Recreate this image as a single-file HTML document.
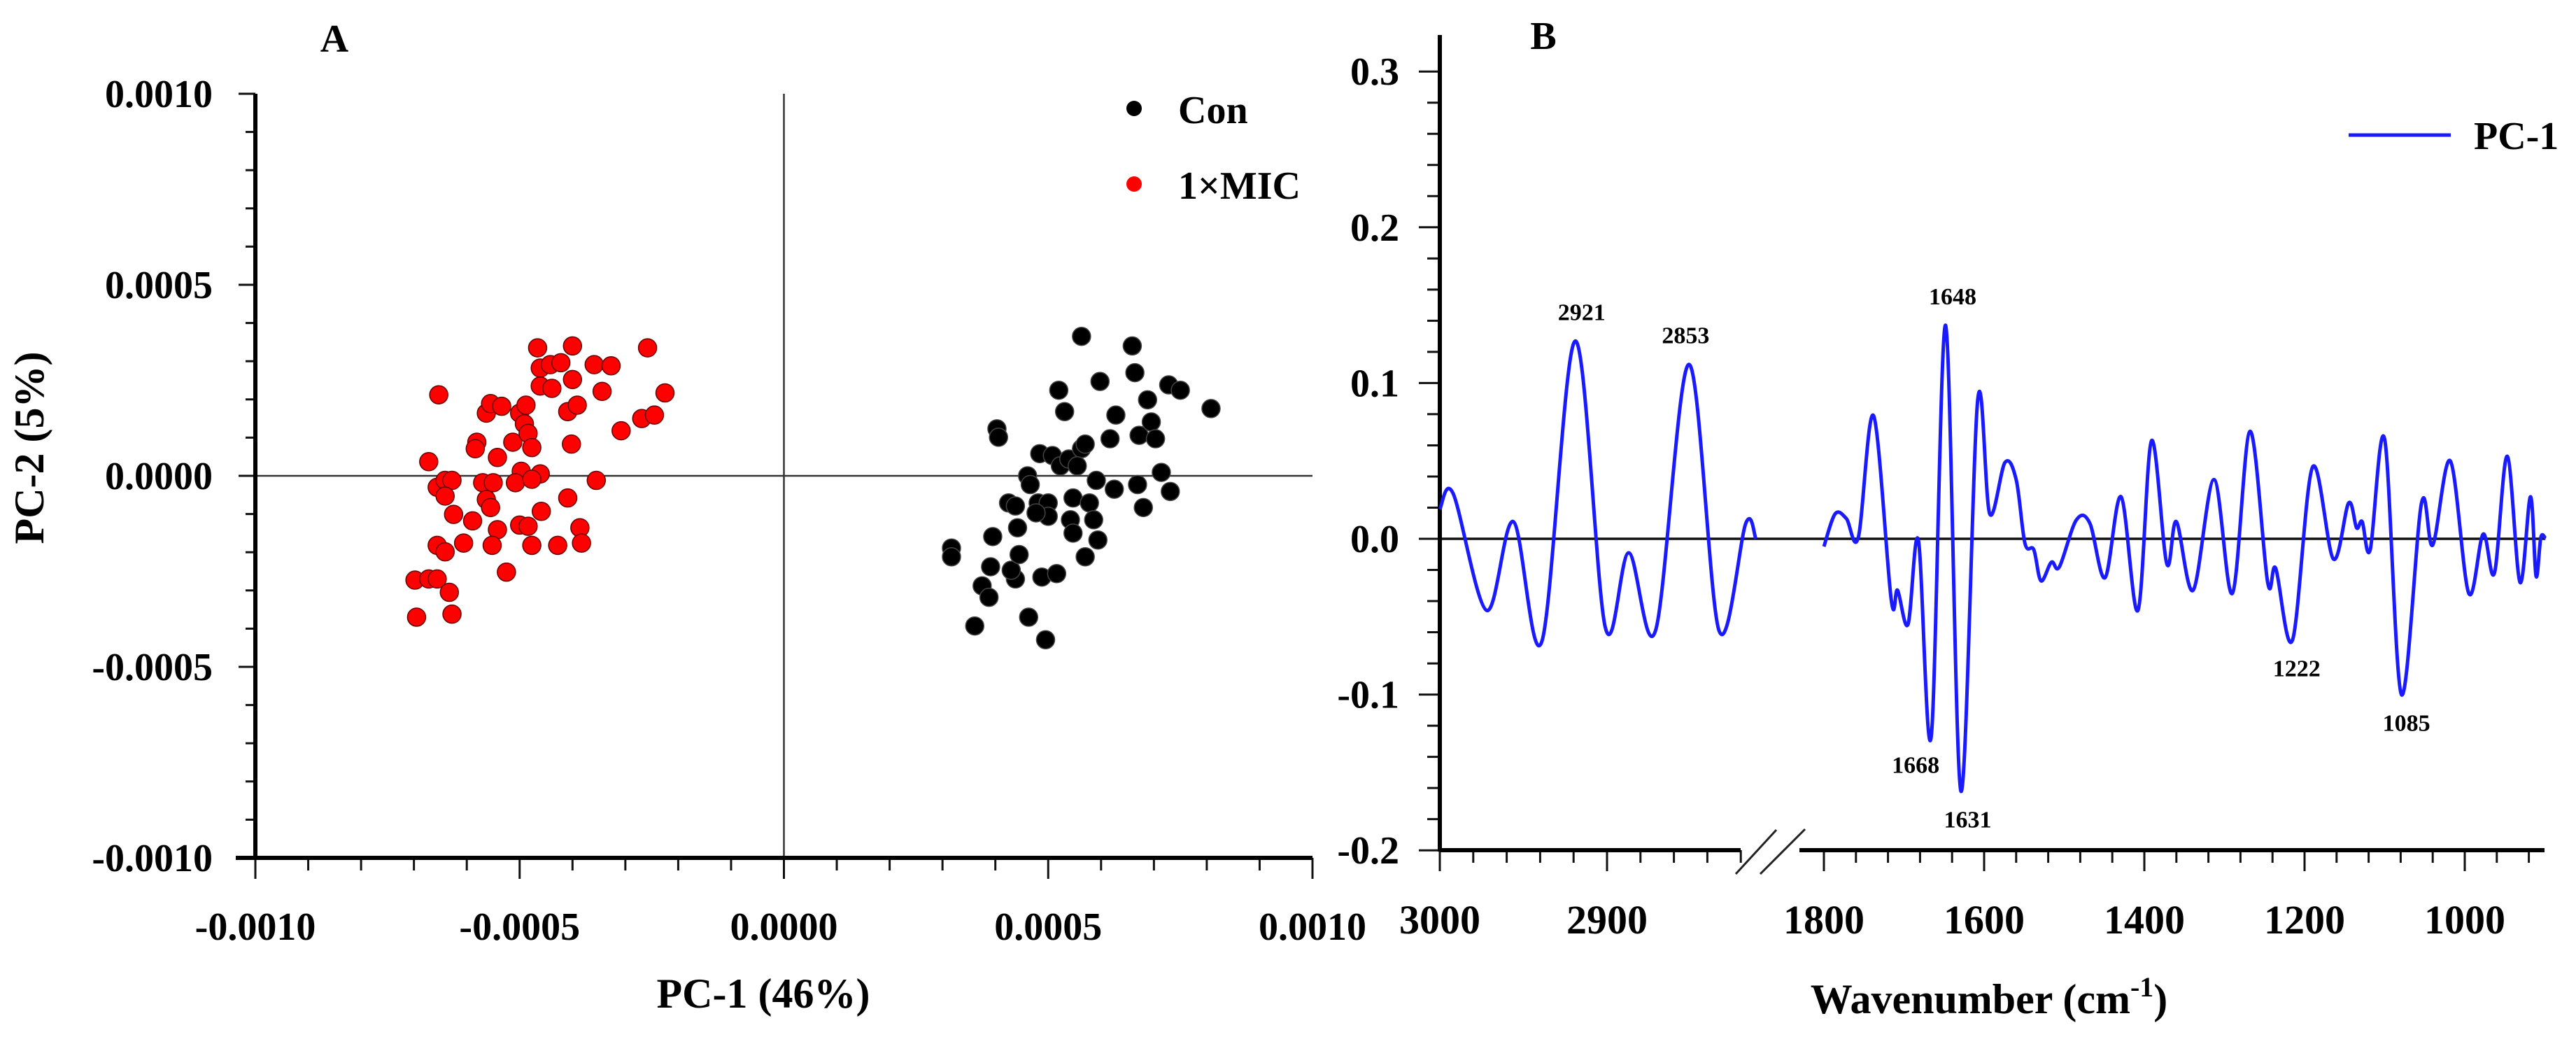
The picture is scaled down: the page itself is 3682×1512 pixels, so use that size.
<!DOCTYPE html>
<html><head><meta charset="utf-8"><style>
html,body{margin:0;padding:0;background:#fff;}
svg{display:block;}
text{font-family:"Liberation Serif",serif;font-weight:bold;fill:#000;}
</style></head><body>
<svg id="fig" width="3682" height="1512" viewBox="0 0 3682 1512" xmlns="http://www.w3.org/2000/svg">
<g id="panelA"></g>
<g id="panelB"></g>
</svg>
<script>
// ---------- Panel A data (PCA scores, units of 1e-4) ----------
const aTickValues = [-10, -5, 0, 5, 10];
const aXTickLabels = ["-0.0010", "-0.0005", "0.0000", "0.0005", "0.0010"];
const aYTickLabels = ["-0.0010", "-0.0005", "0.0000", "0.0005", "0.0010"];
const micPC1 = [-6.95,-6.28,-6.98,-6.72,-6.56,-6.33,-6.53,-6.72,-6.56,-6.41,-6.28,-6.41,-6.25,-6.06,-6.56,-6.41,-5.89,-5.81,-5.84,-5.63,-5.55,-5.34,-5.42,-5.70,-5.50,-5.63,-5.55,-5.42,-5.52,-5.25,-5.00,-4.88,-4.91,-5.13,-4.84,-4.77,-4.97,-5.08,-4.61,-4.77,-5.00,-4.84,-4.77,-4.59,-4.66,-4.61,-4.42,-4.61,-4.39,-4.22,-4.00,-4.00,-4.09,-3.91,-4.02,-4.09,-3.86,-3.83,-4.28,-3.59,-3.27,-3.44,-3.55,-3.08,-2.69,-2.58,-2.45,-2.25];
const micPC2 = [-3.70,-3.62,-2.73,-2.70,-2.70,-3.05,2.12,0.37,-0.30,-0.12,-0.12,-0.53,-1.01,-1.76,-1.82,-1.99,-1.18,0.88,0.71,1.64,1.89,1.82,0.48,-0.18,-0.18,-0.62,-0.83,-1.41,-1.82,-2.52,1.64,1.85,1.36,0.88,1.11,0.74,0.12,-0.18,0.05,-0.09,-1.29,-1.32,-1.82,-0.93,3.35,2.82,2.91,2.35,2.29,2.96,3.40,2.52,1.68,1.85,0.83,-0.58,-1.36,-1.76,-1.82,2.91,2.88,2.21,-0.12,1.18,1.50,3.35,1.59,2.17];
const conPC1 = [3.17,3.17,3.61,3.75,3.88,3.91,3.95,4.03,4.06,4.38,4.30,4.45,4.42,4.25,4.38,4.63,4.95,4.88,5.16,4.61,4.66,4.81,5.00,4.84,5.08,5.20,5.31,5.23,5.39,5.47,5.63,5.63,5.42,5.47,5.70,5.78,5.91,5.86,5.94,5.98,6.17,6.25,6.28,6.59,6.64,6.69,6.72,6.80,6.88,6.95,7.03,7.14,7.28,7.31,7.50,8.08,5.70,5.55,5.00,4.77];
const conPC2 = [-1.89,-2.12,-3.93,-2.88,-3.18,-2.38,-1.59,1.23,1.01,-2.70,-2.47,-2.06,-1.36,-0.71,-0.79,-3.70,-4.29,-2.65,-2.56,0.00,-0.23,-0.71,-0.71,0.58,0.53,2.24,1.68,0.26,0.44,-0.58,0.71,3.65,-1.15,-1.50,-2.12,-0.71,-0.12,-1.15,-1.68,2.47,0.97,-0.35,1.59,3.40,2.70,-0.23,1.06,-0.83,1.99,1.41,0.97,0.09,2.38,-0.41,2.24,1.76,0.83,0.26,-1.06,-0.97];

// ---------- Panel B data (PC-1 loadings) ----------
const bYTickValues = [-0.2, -0.1, 0.0, 0.1, 0.2, 0.3];
const bYTickLabels = ["-0.2", "-0.1", "0.0", "0.1", "0.2", "0.3"];
const bX1TickValues = [3000, 2900];
const bX2TickValues = [1800, 1600, 1400, 1200, 1000];
const wnHigh = [3000,2992,2972,2956,2939,2919,2901,2887,2871,2851,2833,2817,2811];
const pcHigh = [0.019,0.029,-0.046,0.011,-0.066,0.127,-0.057,-0.009,-0.059,0.112,-0.059,0.010,0.000];
const wnLow = [1800,1786,1772,1757,1738,1716,1708,1695,1682,1666,1648,1629,1608,1593,1574,1560,1549,1538,1529,1516,1506,1485,1468,1449,1429,1408,1391,1372,1360,1339,1313,1290,1268,1246,1236,1215,1190,1164,1145,1135,1128,1118,1100,1079,1054,1040,1018,995,977,963,947,931,918,911,905,899];
const pcLow = [-0.005,0.016,0.013,0.001,0.079,-0.039,-0.033,-0.055,-0.001,-0.127,0.137,-0.162,0.089,0.016,0.049,0.038,-0.003,-0.007,-0.027,-0.015,-0.018,0.012,0.010,-0.025,0.027,-0.046,0.063,-0.016,0.011,-0.033,0.038,-0.035,0.069,-0.028,-0.019,-0.065,0.046,-0.013,0.023,0.007,0.011,-0.007,0.064,-0.100,0.023,-0.004,0.050,-0.035,0.003,-0.022,0.053,-0.028,0.027,-0.024,0.001,0.000];
const peakWn = [2921, 2853, 1648, 1668, 1631, 1222, 1085];
const peakLabels = ["2921", "2853", "1648", "1668", "1631", "1222", "1085"];
const peakVal = [0.127, 0.112, 0.137, -0.127, -0.162, -0.065, -0.100];

const NS = "http://www.w3.org/2000/svg";
function mk(parent, tag, attrs, txt) {
  const e = document.createElementNS(NS, tag);
  for (const k in attrs) e.setAttribute(k, attrs[k]);
  if (txt !== undefined) e.textContent = txt;
  parent.appendChild(e);
  return e;
}

// ---------- Panel A ----------
const A = document.getElementById('panelA');
const aL = 365, aR = 1876, aT = 134, aB = 1226;
const xA = v => aL + (v + 10) / 20 * (aR - aL);
const yA = v => aB - (v + 10) / 20 * (aB - aT);

let el;
el = mk(A, 'line', {x1: xA(0), y1: aT, x2: xA(0), y2: aB, stroke: '#333', 'stroke-width': 2.5});


el = mk(A, 'line', {x1: aL, y1: yA(0), x2: aR, y2: yA(0), stroke: '#333', 'stroke-width': 2.5});



for (let v = -10; v <= 10; v++) {
  const major = v % 5 === 0;
  el = mk(A, 'line', {x1: xA(v), y1: aB, x2: xA(v), y2: aB + (major ? 30 : 18), stroke: '#111', 'stroke-width': 3});
  
  
  el = mk(A, 'line', {x1: aL, y1: yA(v), x2: aL - (major ? 24 : 14), y2: yA(v), stroke: '#111', 'stroke-width': 3});
  
  
}
el = mk(A, 'line', {x1: aL, y1: aT, x2: aL, y2: aB + 2, stroke: '#000', 'stroke-width': 6});


el = mk(A, 'line', {x1: aL - 28, y1: aB, x2: aR, y2: aB, stroke: '#000', 'stroke-width': 6});



aTickValues.forEach((v, i) => {
  el = mk(A, 'text', {x: xA(v), y: 1343, 'font-size': 56, 'text-anchor': 'middle'}, aXTickLabels[i]);
  
  
  el = mk(A, 'text', {x: 304, y: yA(v) + 19, 'font-size': 56, 'text-anchor': 'end'}, aYTickLabels[i]);
  
  
});

micPC1.forEach((v, i) => {
  el = mk(A, 'circle', {cx: xA(v), cy: yA(micPC2[i]), r: 13, fill: '#f00', stroke: '#600', 'stroke-width': 1.5});
  
  
});
conPC1.forEach((v, i) => {
  el = mk(A, 'circle', {cx: xA(v), cy: yA(conPC2[i]), r: 13, fill: '#000', stroke: '#444', 'stroke-width': 1.5});
  
  
});

el = mk(A, 'text', {x: 478, y: 74, 'font-size': 56, 'text-anchor': 'middle'}, 'A');


el = mk(A, 'text', {x: 1091, y: 1440, 'font-size': 60, 'text-anchor': 'middle'}, 'PC-1 (46%)');


el = mk(A, 'text', {x: 0, y: 0, 'font-size': 60, 'text-anchor': 'middle', transform: 'translate(62,640) rotate(-90)'}, 'PC-2 (5%)');



el = mk(A, 'circle', {cx: 1621, cy: 155, r: 11, fill: '#000'});


el = mk(A, 'text', {x: 1684, y: 176, 'font-size': 56}, 'Con');


el = mk(A, 'circle', {cx: 1621, cy: 263, r: 11, fill: '#f00'});


el = mk(A, 'text', {x: 1684, y: 284, 'font-size': 56}, '1×MIC');



// ---------- Panel B ----------
const B = document.getElementById('panelB');
const bL = 2058, bR = 3637, bT = 50, bB = 1215;
const yB = v => 770 - v * 2226;
const xB1 = w => bL + (3000 - w) * 2.39;
const xB2 = w => 2607 + (1800 - w) * 1.145;

el = mk(B, 'line', {x1: bL, y1: yB(0), x2: bR, y2: yB(0), stroke: '#111', 'stroke-width': 3.5});



for (let k = -10; k <= 15; k++) {
  const v = k * 0.02;
  const major = k % 5 === 0;
  el = mk(B, 'line', {x1: bL, y1: yB(v), x2: bL - (major ? 30 : 18), y2: yB(v), stroke: '#111', 'stroke-width': 3});
  
  
}
for (let w = 3000; w >= 2820; w -= 20) {
  el = mk(B, 'line', {x1: xB1(w), y1: bB, x2: xB1(w), y2: bB + (w % 100 === 0 ? 30 : 18), stroke: '#111', 'stroke-width': 3});
  
  
}
for (let w = 1800; w >= 920; w -= 40) {
  el = mk(B, 'line', {x1: xB2(w), y1: bB, x2: xB2(w), y2: bB + (w % 200 === 0 ? 30 : 18), stroke: '#111', 'stroke-width': 3});
  
  
}
el = mk(B, 'line', {x1: bL, y1: bT, x2: bL, y2: bB + 2, stroke: '#000', 'stroke-width': 6});


el = mk(B, 'line', {x1: bL, y1: bB, x2: 2488, y2: bB, stroke: '#000', 'stroke-width': 6});


el = mk(B, 'line', {x1: 2572, y1: bB, x2: bR, y2: bB, stroke: '#000', 'stroke-width': 6});


el = mk(B, 'line', {x1: 2481, y1: 1249, x2: 2539, y2: 1186, stroke: '#222', 'stroke-width': 3});


el = mk(B, 'line', {x1: 2516, y1: 1249, x2: 2580, y2: 1185, stroke: '#222', 'stroke-width': 3});



bYTickValues.forEach((v, i) => {
  el = mk(B, 'text', {x: 2000, y: yB(v) + 19, 'font-size': 56, 'text-anchor': 'end'}, bYTickLabels[i]);
  
  
});
bX1TickValues.forEach(w => {
  el = mk(B, 'text', {x: xB1(w), y: 1334, 'font-size': 58, 'text-anchor': 'middle'}, String(w));
  
  
});
bX2TickValues.forEach(w => {
  el = mk(B, 'text', {x: xB2(w), y: 1334, 'font-size': 58, 'text-anchor': 'middle'}, String(w));
  
  
});

function smoothPath(xs, ys) {
  let d = 'M' + xs[0].toFixed(1) + ',' + ys[0].toFixed(1);
  for (let i = 0; i < xs.length - 1; i++) {
    const x0 = xs[Math.max(0, i - 1)], y0 = ys[Math.max(0, i - 1)];
    const x1 = xs[i], y1 = ys[i], x2 = xs[i + 1], y2 = ys[i + 1];
    const x3 = xs[Math.min(xs.length - 1, i + 2)], y3 = ys[Math.min(xs.length - 1, i + 2)];
    const c1x = x1 + (x2 - x0) / 6, c1y = y1 + (y2 - y0) / 6;
    const c2x = x2 - (x3 - x1) / 6, c2y = y2 - (y3 - y1) / 6;
    d += ' C' + c1x.toFixed(1) + ',' + c1y.toFixed(1) + ' ' + c2x.toFixed(1) + ',' + c2y.toFixed(1) + ' ' + x2.toFixed(1) + ',' + y2.toFixed(1);
  }
  return d;
}
el = mk(B, 'path', {d: smoothPath(wnHigh.map(xB1), pcHigh.map(yB)), fill: 'none', stroke: '#1a1aff', 'stroke-width': 5});


el = mk(B, 'path', {d: smoothPath(wnLow.map(xB2), pcLow.map(yB)), fill: 'none', stroke: '#1a1aff', 'stroke-width': 5});



peakWn.forEach((w, i) => {
  const x = w > 2000 ? xB1(w) : xB2(w);
  const v = peakVal[i];
  const y = v > 0 ? yB(v) - 30 : yB(v) + 52;
  let dx = 0;
  if (w === 1668) dx = -20; if (w === 1631) dx = 12; if (w === 1222) dx = 14; if (w === 1085) dx = 14; if (w === 2921) dx = 14; if (w === 1648) dx = 10;
  el = mk(B, 'text', {x: x + dx, y: y, 'font-size': 34, 'text-anchor': 'middle'}, peakLabels[i]);
  
  
});

el = mk(B, 'text', {x: 2206, y: 70, 'font-size': 56, 'text-anchor': 'middle'}, 'B');


el = mk(B, 'line', {x1: 3357, y1: 193, x2: 3503, y2: 193, stroke: '#1a1aff', 'stroke-width': 5});


el = mk(B, 'text', {x: 3536, y: 213, 'font-size': 56}, 'PC-1');



const xt = mk(B, 'text', {x: 2843, y: 1448, 'font-size': 60, 'text-anchor': 'middle'});


mk(xt, 'tspan', {}, 'Wavenumber (cm');
mk(xt, 'tspan', {dy: -24, 'font-size': 40}, '-1');
mk(xt, 'tspan', {dy: 24}, ')');
</script>
</body></html>
